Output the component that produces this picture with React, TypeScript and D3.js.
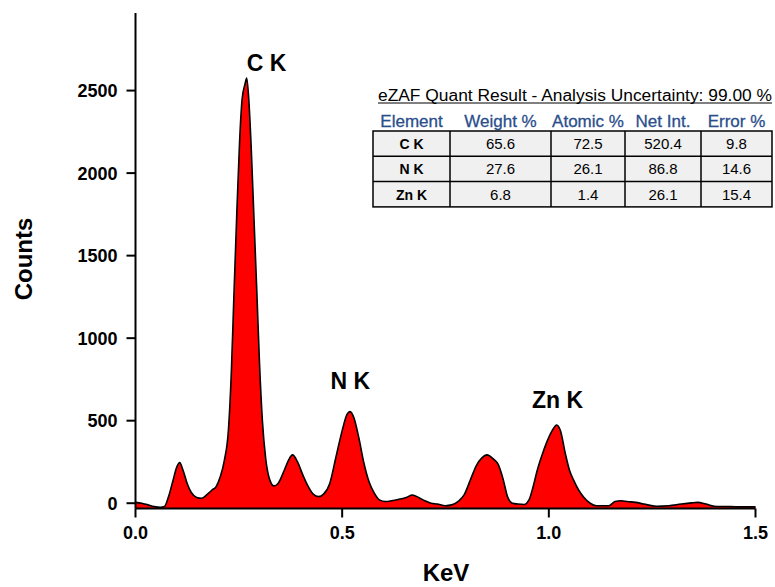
import * as d3 from 'd3';

const WIDTH = 775;
const HEIGHT = 587;
const FONT = '"Liberation Sans", Arial, sans-serif';

// spectrum
const energy = [
  0.0, 0.015, 0.03, 0.045, 0.06, 0.07, 0.08, 0.09, 0.1, 0.107, 0.115, 0.125, 0.135, 0.148,
  0.16, 0.172, 0.185, 0.195, 0.205, 0.215, 0.225, 0.232, 0.238, 0.245, 0.252, 0.258, 0.265,
  0.269, 0.274, 0.28, 0.287, 0.294, 0.3, 0.307, 0.315, 0.325, 0.335, 0.345, 0.36, 0.37, 0.38,
  0.392, 0.405, 0.418, 0.43, 0.443, 0.455, 0.47, 0.485, 0.5, 0.512, 0.519, 0.528, 0.54, 0.552,
  0.565, 0.578, 0.59, 0.605, 0.62, 0.64, 0.655, 0.67, 0.685, 0.7, 0.715, 0.73, 0.75, 0.765,
  0.78, 0.795, 0.81, 0.825, 0.838, 0.85, 0.865, 0.878, 0.89, 0.9, 0.912, 0.925, 0.94, 0.952,
  0.962, 0.972, 0.982, 0.995, 1.008, 1.019, 1.028, 1.04, 1.05, 1.06, 1.072, 1.085, 1.1, 1.115,
  1.13, 1.145, 1.16, 1.175, 1.19, 1.21, 1.23, 1.26, 1.29, 1.32, 1.345, 1.36, 1.38, 1.4, 1.43,
  1.46, 1.5,
];
const counts = [
  5, 0, -10, -20, -25, -20, 40, 130, 220, 246, 200, 120, 65, 35,
  30, 50, 80, 100, 160, 260, 450, 800, 1250, 1750, 2200, 2450, 2540,
  2576, 2450, 2150, 1700, 1250, 850, 500, 270, 140, 105, 120, 200, 260, 293,
  250, 170, 100, 55, 40, 55, 120, 280, 440, 540, 555, 520, 400, 250,
  130, 60, 20, 10, 15, 25, 35, 50, 35, 15, 0, -5, -15, -10,
  10, 50, 140, 230, 275, 293, 270, 232, 140, 40, 0, -5, -8, 20,
  100, 200, 280, 370, 440, 474, 440, 300, 200, 140, 80, 35, 0, -15,
  -15, -15, 10, 15, 10, 5, -5, -18, -15, -5, 2, 5, -5, -18, -20,
  -22, -22,
];

const yTicks = [0, 500, 1000, 1500, 2000, 2500];
const xTicks = [0, 0.5, 1.0, 1.5];

const peakNames = ['C K', 'N K', 'Zn K'];
const peakLabelKeV = [0.317, 0.52, 1.021];
const peakLabelCounts = [2620, 693, 578];

const tableTitle = 'eZAF Quant Result - Analysis Uncertainty: 99.00 %';
const tableHeaders = ['Element', 'Weight %', 'Atomic %', 'Net Int.', 'Error %'];
const elements = ['C K', 'N K', 'Zn K'];
const weightPct = ['65.6', '27.6', '6.8'];
const atomicPct = ['72.5', '26.1', '1.4'];
const netInt = ['520.4', '86.8', '26.1'];
const errorPct = ['9.8', '14.6', '15.4'];

const colEdges = [373, 450, 551, 625, 701, 772];
const tableTop = 131;
const rowH = 25.3;

const App = () => {
  const xScale = d3.scaleLinear().domain([0, 1.5]).range([135.5, 755.5]);
  const yScale = d3.scaleLinear().domain([-32, 2970]).range([508.5, 13]);

  const points = energy.map((e, i) => ({ x: e, y: counts[i] }));
  const areaBuilder = d3
    .area<{ x: number; y: number }>()
    .x((d) => xScale(d.x))
    .y0(yScale(-32))
    .y1((d) => yScale(d.y))
    .curve(d3.curveMonotoneX);
  const lineBuilder = d3
    .line<{ x: number; y: number }>()
    .x((d) => xScale(d.x))
    .y((d) => yScale(d.y))
    .curve(d3.curveMonotoneX);

  const x0 = xScale(0);
  const yBase = yScale(-32);

  const rows = elements.map((el, i) => [el, weightPct[i], atomicPct[i], netInt[i], errorPct[i]]);

  return (
    <svg
      width={WIDTH}
      height={HEIGHT}
      style={{ position: 'absolute', left: 0, top: 0, background: '#fff' }}
      fontFamily={FONT}
    >
      <path d={areaBuilder(points) || ''} fill="#ff0000" stroke="none" />
      <path d={lineBuilder(points) || ''} fill="none" stroke="#000" strokeWidth={1.6} />

      {/* axes */}
      <line x1={x0} x2={x0} y1={yScale(2970)} y2={yBase} stroke="#000" strokeWidth={2} />
      <line x1={x0} x2={xScale(1.5)} y1={yBase} y2={yBase} stroke="#000" strokeWidth={2} />
      {yTicks.map((t) => (
        <g key={t}>
          <line x1={x0 - 9} x2={x0} y1={yScale(t)} y2={yScale(t)} stroke="#000" strokeWidth={2} />
          <text
            x={x0 - 18}
            y={yScale(t) + 6.5}
            textAnchor="end"
            fontSize={18}
            fontWeight="bold"
          >
            {t}
          </text>
        </g>
      ))}
      {xTicks.map((t) => (
        <g key={t}>
          <line x1={xScale(t)} x2={xScale(t)} y1={yBase} y2={yBase + 9} stroke="#000" strokeWidth={2} />
          <text x={xScale(t)} y={539} textAnchor="middle" fontSize={18} fontWeight="bold">
            {t.toFixed(1)}
          </text>
        </g>
      ))}
      <text
        transform={`translate(32,259) rotate(-90)`}
        textAnchor="middle"
        fontSize={24}
        fontWeight="bold"
      >
        Counts
      </text>
      <text x={446} y={581} textAnchor="middle" fontSize={24} fontWeight="bold">
        KeV
      </text>

      {peakNames.map((p, i) => (
        <text
          key={p}
          x={xScale(peakLabelKeV[i])}
          y={yScale(peakLabelCounts[i])}
          textAnchor="middle"
          fontSize={23}
          fontWeight="bold"
          style={{ whiteSpace: 'pre' }}
        >
          {p}
        </text>
      ))}

      {/* quant table */}
      <text x={378} y={100.5} fontSize={16} textLength={394} lengthAdjust="spacingAndGlyphs">
        {tableTitle}
      </text>
      <line x1={378} x2={772} y1={103} y2={103} stroke="#000" strokeWidth={1} />
      {tableHeaders.map((h, i) => (
        <text
          key={h}
          x={(colEdges[i] + colEdges[i + 1]) / 2}
          y={126.5}
          textAnchor="middle"
          fontSize={17}
          fill="#2a4e8c"
          stroke="#2a4e8c"
          strokeWidth={0.3}
        >
          {h}
        </text>
      ))}
      <rect
        x={colEdges[0]}
        y={tableTop}
        width={colEdges[5] - colEdges[0]}
        height={rowH * 3}
        fill="#f0f0f0"
        stroke="#000"
        strokeWidth={1.5}
      />
      {[1, 2].map((r) => (
        <line
          key={r}
          x1={colEdges[0]}
          x2={colEdges[5]}
          y1={tableTop + r * rowH}
          y2={tableTop + r * rowH}
          stroke="#000"
          strokeWidth={1.5}
        />
      ))}
      {colEdges.slice(1, 5).map((c) => (
        <line key={c} x1={c} x2={c} y1={tableTop} y2={tableTop + rowH * 3} stroke="#000" strokeWidth={1.5} />
      ))}
      {rows.map((row, r) =>
        row.map((cell, c) => (
          <text
            key={`${r}-${c}`}
            x={(colEdges[c] + colEdges[c + 1]) / 2}
            y={tableTop + r * rowH + rowH / 2 + 5.5}
            textAnchor="middle"
            fontSize={c === 0 ? 14 : 15}
            fontWeight={c === 0 ? 'bold' : 'normal'}
            style={{ whiteSpace: 'pre' }}
          >
            {cell}
          </text>
        ))
      )}
    </svg>
  );
};

export default App;
